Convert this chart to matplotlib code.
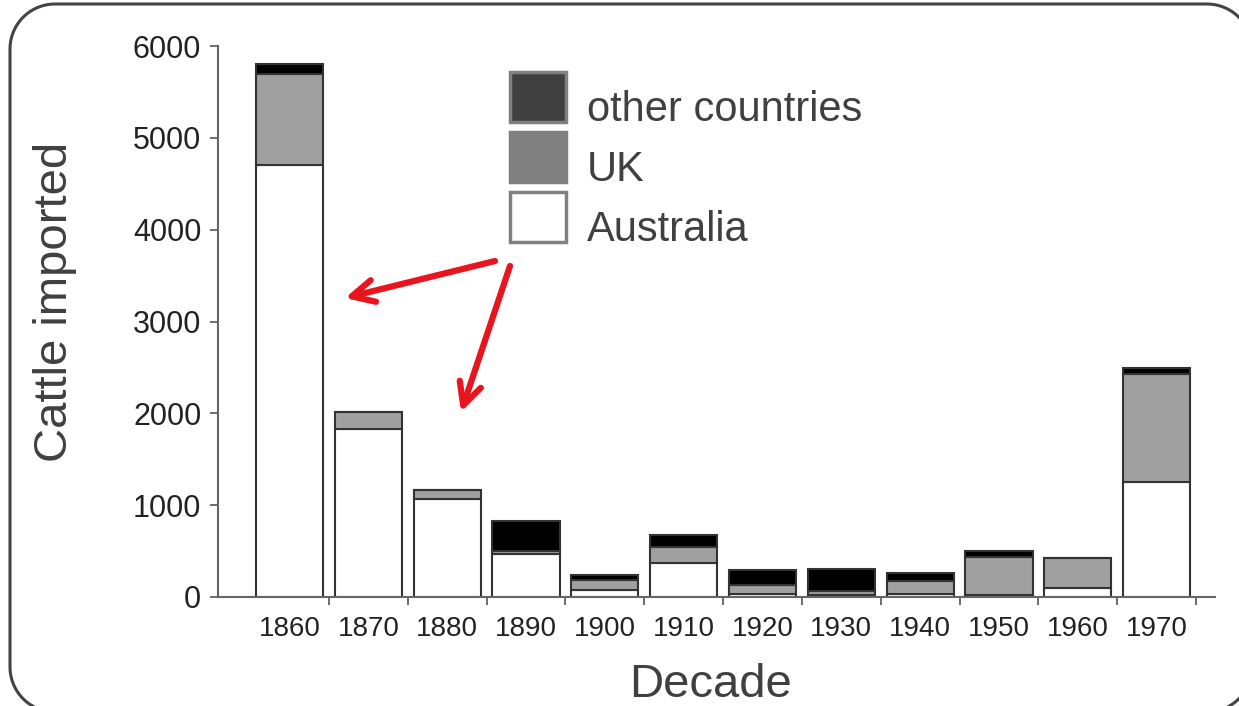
import numpy as np
import matplotlib
matplotlib.use("Agg")
import matplotlib.pyplot as plt
from matplotlib.patches import Polygon, Rectangle

plt.rcParams['font.family'] = ['Liberation Sans', 'DejaVu Sans']

# data
decades = ["1860", "1870", "1880", "1890", "1900", "1910",
           "1920", "1930", "1940", "1950", "1960", "1970"]
australia = [4700, 1830, 1070, 470, 80, 370, 30, 20, 30, 20, 95, 1250]
uk = [1000, 180, 90, 30, 110, 170, 100, 50, 145, 415, 325, 1180]
other = [100, 0, 0, 330, 50, 140, 160, 240, 85, 65, 0, 65]
yticks = [0, 1000, 2000, 3000, 4000, 5000, 6000]

legend_labels = ["other countries", "UK", "Australia"]
legend_colors = ["#404040", "#808080", "#ffffff"]

W, H = 1239, 706
fig = plt.figure(figsize=(W / 100, H / 100), dpi=100)

# main axes, placed in pixel terms
left, right, bottom, top = 218, 1215, 597, 46
ax = fig.add_axes([left / W, 1 - bottom / H, (right - left) / W, (bottom - top) / H])
ax.patch.set_alpha(0)

x = np.arange(len(decades))
a = np.array(australia)
u = np.array(uk)
o = np.array(other)
edge = "#333333"
ax.bar(x, a, width=0.85, color="white", edgecolor=edge, linewidth=1.5)
ax.bar(x, u, bottom=a, width=0.85, color="#a0a0a0", edgecolor=edge, linewidth=1.5)
ax.bar(x, o, bottom=a + u, width=0.85, color="black", edgecolor=edge, linewidth=1.5)

ax.set_xlim(-0.907, 11.74)
ax.set_ylim(0, 6000)
ax.set_yticks(yticks)
ax.set_yticklabels([str(v) for v in yticks], fontsize=22, color="#222222")
ax.set_xticks(x)
ax.set_xticklabels(decades, fontsize=20, color="#222222")
ax.set_xticks(x + 0.5, minor=True)
ax.tick_params(axis="x", which="major", length=0, pad=14)
ax.tick_params(axis="x", which="minor", length=6, width=1.2, color="#555555")
ax.tick_params(axis="y", length=6, width=1.2, color="#555555", pad=6)

for s in ["top", "right"]:
    ax.spines[s].set_visible(False)
ax.spines["left"].set_color("#666666")
ax.spines["left"].set_linewidth(1.5)
ax.spines["bottom"].set_color("#666666")
ax.spines["bottom"].set_linewidth(1.5)

ax.set_ylabel("Cattle imported", fontsize=34, color="#404040", va="center")
ax.yaxis.set_label_coords(-0.163, 0.535)
ax.set_xlabel("Decade", fontsize=34, color="#404040", va="center")
ax.xaxis.set_label_coords(0.4935, -0.16)

# overlay in pixel coordinates (origin bottom-left) for frame, legend and arrows
ov = fig.add_axes([0, 0, 1, 1], zorder=5)
ov.set_xlim(0, W)
ov.set_ylim(0, H)
ov.axis("off")
ov.patch.set_alpha(0)

def py(y):
    # pixel row measured from the top -> overlay coordinate
    return H - y

# rounded slide frame, built corner by corner
fl, ft, fr, fb, rad = 10, 4, 1252, 712, 45
pts = []
for cx, cy, a0 in [(fr - rad, ft + rad, -90), (fr - rad, fb - rad, 0),
                   (fl + rad, fb - rad, 90), (fl + rad, ft + rad, 180)]:
    t = np.radians(np.linspace(a0, a0 + 90, 20))
    pts += [(cx + rad * np.cos(tt), py(cy + rad * np.sin(tt))) for tt in t]
ov.add_patch(Polygon(pts, closed=True, facecolor="none", edgecolor="#444444",
                     linewidth=2.2, clip_on=False))

for i, (lab, col) in enumerate(zip(legend_labels, legend_colors)):
    y0 = 72 + i * 60
    ov.add_patch(Rectangle((510, py(y0 + 50)), 56, 50, facecolor=col,
                           edgecolor="#808080", linewidth=2.5))
    ov.text(587, py(y0 + 38), lab, fontsize=30, color="#404040", va="center", ha="left")

red = "#e8141e"
for (tx, ty), (hx, hy) in [((495, 261), (345, 298)), ((510, 266), (461, 412))]:
    ov.annotate("", xy=(hx, py(hy)), xytext=(tx, py(ty)),
                arrowprops=dict(arrowstyle="->,head_length=1.6,head_width=0.8",
                                color=red, lw=4.5, shrinkA=0, shrinkB=0,
                                capstyle="round", joinstyle="round"))

fig.savefig("out.png", dpi=100)
